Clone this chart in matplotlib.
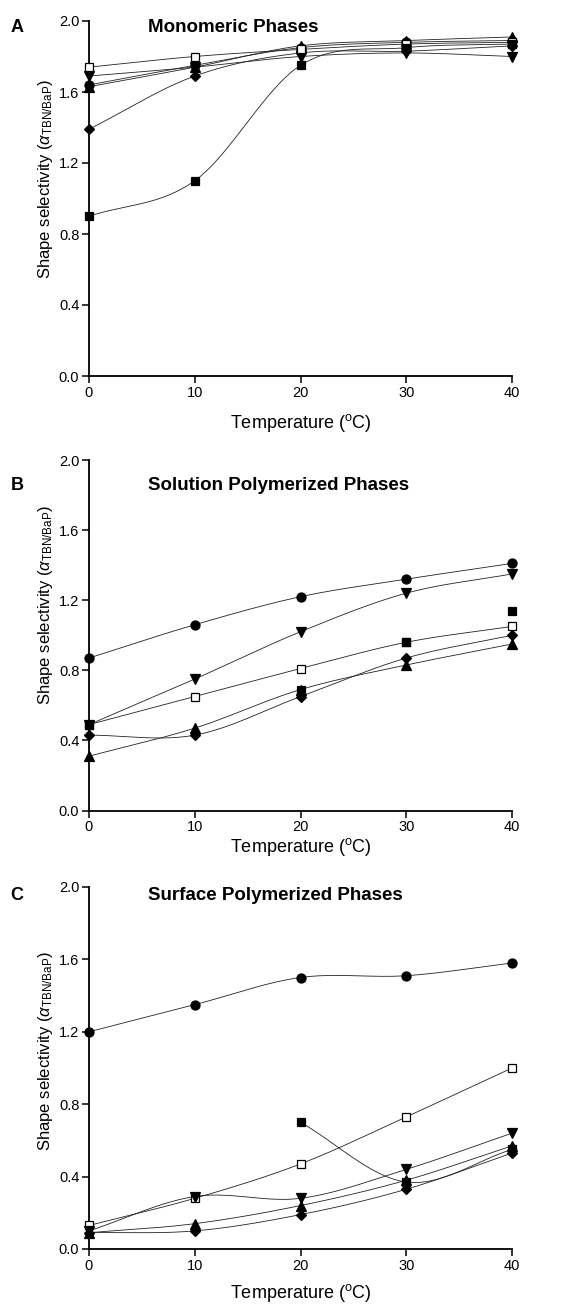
import numpy as np
import matplotlib
matplotlib.use("Agg")
import matplotlib.pyplot as plt

plt.rcParams['font.family'] = ['Liberation Sans', 'DejaVu Sans']
plt.rcParams['mathtext.fontset'] = 'custom'
plt.rcParams['mathtext.rm'] = 'Liberation Sans'
plt.rcParams['mathtext.it'] = 'Liberation Sans:italic'

nan = np.nan
temps = [0, 10, 20, 30, 40]
yticks = [0.0, 0.4, 0.8, 1.2, 1.6, 2.0]

# panel A - monomeric
a_circle = [1.64, 1.75, 1.85, 1.88, 1.89]
a_fsq = [0.90, 1.10, 1.75, 1.85, 1.87]
a_osq = [1.74, 1.80, 1.84, 1.87, 1.88]
a_down = [1.69, 1.74, 1.80, 1.82, 1.80]
a_up = [1.63, 1.74, 1.86, 1.89, 1.91]
a_dia = [1.39, 1.69, 1.82, 1.83, 1.86]

# panel B - solution polymerized
b_circle = [0.87, 1.06, 1.22, 1.32, 1.41]
b_fsq = [0.49, nan, 0.69, 0.96, 1.14]   # markers only
b_osq = [0.49, 0.65, 0.81, 0.96, 1.05]
b_down = [0.49, 0.75, 1.02, 1.24, 1.35]
b_up = [0.31, 0.47, 0.69, 0.83, 0.95]
b_dia = [0.43, 0.43, 0.65, 0.87, 1.00]

# panel C - surface polymerized
c_circle = [1.20, 1.35, 1.50, 1.51, 1.58]
c_fsq = [nan, nan, 0.70, 0.37, 0.55]
c_osq = [0.13, 0.28, 0.47, 0.73, 1.00]
c_down = [0.10, 0.29, 0.28, 0.44, 0.64]
c_up = [0.09, 0.14, 0.24, 0.38, 0.57]
c_dia = [0.09, 0.10, 0.19, 0.33, 0.53]

titles = ["Monomeric Phases", "Solution Polymerized Phases", "Surface Polymerized Phases"]
letters = ["A", "B", "C"]

styles = {
    'circle': dict(marker='o', ms=6.5, mfc='black'),
    'fsq': dict(marker='s', ms=5.2, mfc='black'),
    'osq': dict(marker='s', ms=5.2, mfc='white'),
    'down': dict(marker='v', ms=7, mfc='black'),
    'up': dict(marker='^', ms=7, mfc='black'),
    'dia': dict(marker='D', ms=4.8, mfc='black'),
}


def smooth(x, y, n=40):
    # catmull-rom style curve through the points, for drawing only
    x = np.asarray(x, float)
    y = np.asarray(y, float)
    if len(x) < 2:
        return x, y
    m = np.gradient(y, x)
    xs, ys = [], []
    for i in range(len(x) - 1):
        h = x[i + 1] - x[i]
        t = np.linspace(0, 1, n)
        h00 = 2 * t**3 - 3 * t**2 + 1
        h10 = t**3 - 2 * t**2 + t
        h01 = -2 * t**3 + 3 * t**2
        h11 = t**3 - t**2
        xs.append(x[i] + t * h)
        ys.append(h00 * y[i] + h10 * h * m[i] + h01 * y[i + 1] + h11 * h * m[i + 1])
    return np.concatenate(xs), np.concatenate(ys)


def draw(ax, vals, key, line=True):
    x = np.array(temps, float)
    y = np.array(vals, float)
    if line:
        ok = ~np.isnan(y)
        runs = []
        cur = []
        for i in range(len(y)):
            if ok[i]:
                cur.append(i)
            else:
                if cur:
                    runs.append(cur)
                cur = []
        if cur:
            runs.append(cur)
        for r in runs:
            sx, sy = smooth(x[r], y[r])
            ax.plot(sx, sy, color='#222222', lw=0.6, zorder=2)
    ax.plot(x, y, ls='none', mec='black', mew=0.9, color='black',
            clip_on=False, zorder=4, **styles[key])


fig = plt.figure(figsize=(5.85, 13.06), dpi=100)
W, H = 585.0, 1306.0
boxes = [(21, 376), (460, 810.5), (887, 1249)]
left, right = 89, 512
panels = [
    [(a_down, 'down', True), (a_up, 'up', True), (a_dia, 'dia', True),
     (a_circle, 'circle', True), (a_osq, 'osq', True), (a_fsq, 'fsq', True)],
    [(b_circle, 'circle', True), (b_down, 'down', True), (b_osq, 'osq', True),
     (b_up, 'up', True), (b_dia, 'dia', True), (b_fsq, 'fsq', False)],
    [(c_circle, 'circle', True), (c_osq, 'osq', True), (c_down, 'down', True),
     (c_up, 'up', True), (c_dia, 'dia', True), (c_fsq, 'fsq', True)],
]
xlab_pad = [9, 1, 7]
ylab_pos = [0.555, 0.586, 0.547]
title_y = [27, 486, 896]

for k, (top, bot) in enumerate(boxes):
    ax = fig.add_axes([left / W, 1 - bot / H, (right - left) / W, (bot - top) / H])
    for vals, key, line in panels[k]:
        draw(ax, vals, key, line)
    ax.set_xlim(0, 40)
    ax.set_ylim(0, 2.0)
    ax.set_xticks(temps)
    ax.set_yticks(yticks)
    ax.set_yticklabels([f"{v:.1f}" for v in yticks])
    for s in ['top', 'right']:
        ax.spines[s].set_visible(False)
    for s in ['left', 'bottom']:
        ax.spines[s].set_linewidth(1.3)
    ax.tick_params(direction='out', length=5, width=1.1, labelsize=10.5, pad=2)
    ax.set_xlabel("Temperature ($^{\\rm o}$C)", fontsize=13, labelpad=xlab_pad[k])
    ax.set_ylabel("Shape selectivity ($\\alpha_{\\rm TBN/BaP}$)", fontsize=12)
    ax.yaxis.set_label_coords(-0.08, ylab_pos[k])
    fig.text(148 / W, 1 - title_y[k] / H, titles[k], fontsize=13.5, fontweight='bold',
             ha='left', va='center')
    fig.text(17 / W, 1 - title_y[k] / H, letters[k], fontsize=13, fontweight='bold',
             ha='center', va='center')

fig.savefig("out.png", dpi=100)
